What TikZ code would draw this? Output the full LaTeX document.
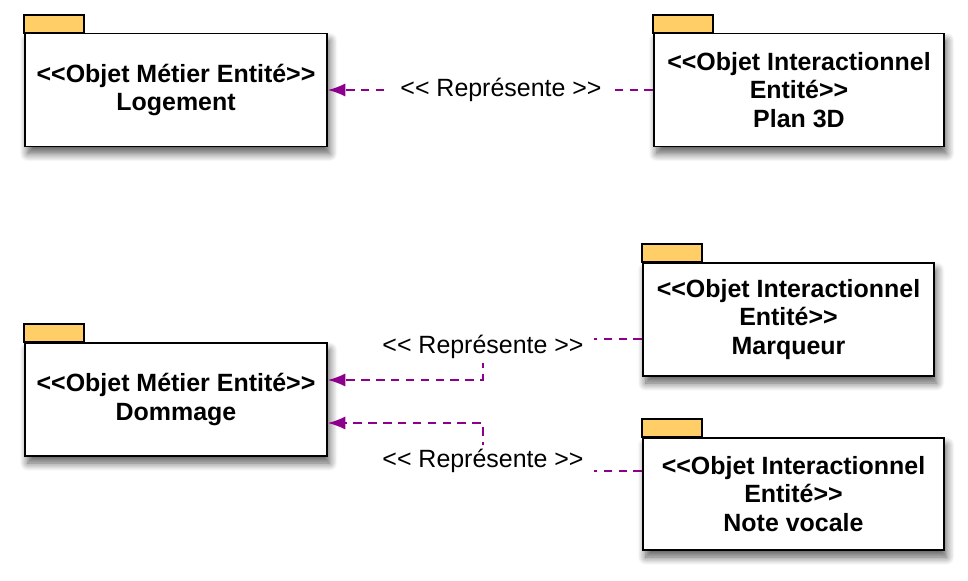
\documentclass[tikz,border=0pt]{standalone}
\usepackage{fontspec}
\setmainfont{Liberation Sans}
\usetikzlibrary{arrows.meta,shadows.blur}
\definecolor{tabyellow}{RGB}{255,206,102}
\definecolor{repviolet}{RGB}{140,0,140}

\begin{document}
\begin{tikzpicture}[x=0.02cm,y=-0.02cm,
  pkg/.style={draw,line width=0.9pt,fill=white,inner sep=0pt,align=center,
    font=\fontsize{14.2}{16.4}\selectfont\bfseries,minimum height=2.26cm,
    blur shadow={shadow xshift=1.5pt,shadow yshift=-4pt,shadow blur steps=10,shadow blur radius=4.5pt,shadow opacity=65}},
  tab/.style={draw,line width=0.9pt,fill=tabyellow},
  rep/.style={repviolet,line width=1pt,dash pattern=on 5pt off 3.5pt,-{Latex[length=10pt,width=7.5pt]}},
  lbl/.style={fill=white,inner xsep=0.2cm,inner ysep=0.08cm,font=\fontsize{14.2}{16.4}\selectfont}]
  \useasboundingbox (0,0) rectangle (968,581);

  \node[pkg,minimum width=6.04cm] (logement) at (176,90) {<{}<Objet Métier Entité>{}>\\Logement};
  \node[pkg,minimum width=5.8cm] (plan) at (799,90) {<{}<Objet Interactionnel\\Entité>{}>\\Plan 3D};
  \node[pkg,minimum width=6.04cm] (dommage) at (176,399.5) {<{}<Objet Métier Entité>{}>\\Dommage};
  \node[pkg,minimum width=5.82cm] (marqueur) at (788.5,319.5) {<{}<Objet Interactionnel\\Entité>{}>\\Marqueur};
  \node[pkg,minimum width=6.02cm,minimum height=2.24cm] (note) at (793.5,494) {<{}<Objet Interactionnel\\Entité>{}>\\Note vocale};

  \foreach \p in {logement,plan,dommage,marqueur,note}
    \draw[tab] (\p.north west) rectangle ++(60,-18);

  \coordinate (k1) at (483,339);
  \coordinate (k2) at (483,380);
  \coordinate (k3) at (483,471);
  \coordinate (k4) at (483,423);

  \draw[rep] (plan.west) -- (logement.east);
  \draw[rep] (marqueur.west |- k1) -- (k1) -- (k2) -- (dommage.east |- k2);
  \draw[rep] (note.west |- k3) -- (k3) -- (k4) -- (dommage.east |- k4);

  \node[lbl] (rep1) at (501,90) {<{}< Représente >{}>};
  \node[lbl] (rep2) at (483,347) {<{}< Représente >{}>};
  \node[lbl] (rep3) at (483,461) {<{}< Représente >{}>};
\end{tikzpicture}
\end{document}
